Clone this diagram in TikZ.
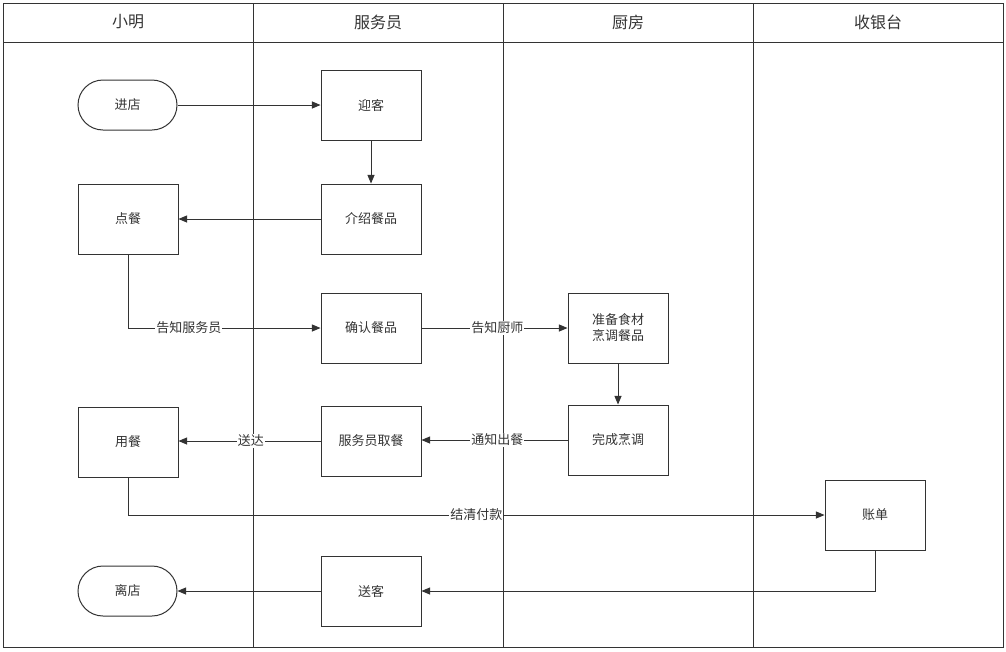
\documentclass[tikz,border=0pt]{standalone}
\usepackage{fontspec}
\setmainfont{Noto Sans CJK SC}
\usetikzlibrary{shapes,arrows,calc}
\definecolor{ink}{HTML}{333333}
\tikzstyle{line} = [draw=ink, line width=1pt, -triangle 45]
\tikzstyle{block} = [draw=ink, line width=1pt, rectangle, text centered, minimum width=100pt, minimum height=70pt, font=\fontsize{13}{16}\selectfont, text=ink]
\tikzstyle{terminal} = [draw=ink, line width=1pt, rectangle, rounded corners=25pt, text centered, minimum width=99pt, minimum height=50pt, font=\fontsize{13}{16}\selectfont, text=ink]
\tikzstyle{tag} = [fill=white, inner sep=1pt, font=\fontsize{13}{16}\selectfont, text=ink]
\tikzstyle{lane} = [draw=ink, line width=1pt]

\begin{document}
\begin{tikzpicture}[x=1pt, y=-1pt]
        \useasboundingbox (0,0) rectangle (1006,651);
        % swimlanes
        \draw[lane] (3,3) rectangle (1003,647);
        \draw[lane] (3,42) -- (1003,42);
        \foreach \x in {253,503,753} \draw[lane] (\x,3) -- (\x,647);
        \node[text=ink, font=\fontsize{16}{19}\selectfont] (h1) at (128,22) {小明};
        \node[text=ink, font=\fontsize{16}{19}\selectfont] (h2) at (378,22) {服务员};
        \node[text=ink, font=\fontsize{16}{19}\selectfont] (h3) at (628,22) {厨房};
        \node[text=ink, font=\fontsize{16}{19}\selectfont] (h4) at (878,22) {收银台};
        % nodes
        \node[terminal] (enter) at (127.5,105) {进店};
        \node[block] (greet) at (371,105) {迎客};
        \node[block] (intro) at (371,219) {介绍餐品};
        \node[block] (order) at (128,219) {点餐};
        \node[block] (confirm) at (371,328) {确认餐品};
        \node[block, align=center] (cook) at (618,328) {准备食材\\烹调餐品};
        \node[block] (done) at (618,440) {完成烹调};
        \node[block] (pickup) at (371,441) {服务员取餐};
        \node[block] (eat) at (128,442) {用餐};
        \node[block] (bill) at (875,515) {账单};
        \node[block] (bye) at (371,591) {送客};
        \node[terminal] (leave) at (127.5,591) {离店};
        % connectors
        \path[line] (enter) -- (greet);
        \path[line] (greet) -- (intro);
        \path[line] (intro) -- (order);
        \path[line] (order.south) |- node[tag, pos=0.658] {告知服务员} (confirm.west);
        \path[line] (confirm) -- node[tag, pos=0.52] {告知厨师} (cook);
        \path[line] (cook) -- (done);
        \path[line] (done.west) -- node[tag, pos=0.48] {通知出餐} (pickup.east |- done.west);
        \path[line] (pickup.west) -- node[tag, pos=0.49] {送达} (eat.east |- pickup.west);
        \path[line] (eat.south) |- node[tag, pos=0.75] {结清付款} (bill.west);
        \path[line] (bill.south) |- (bye.east);
        \path[line] (bye) -- (leave);
    \end{tikzpicture}
\end{document}
